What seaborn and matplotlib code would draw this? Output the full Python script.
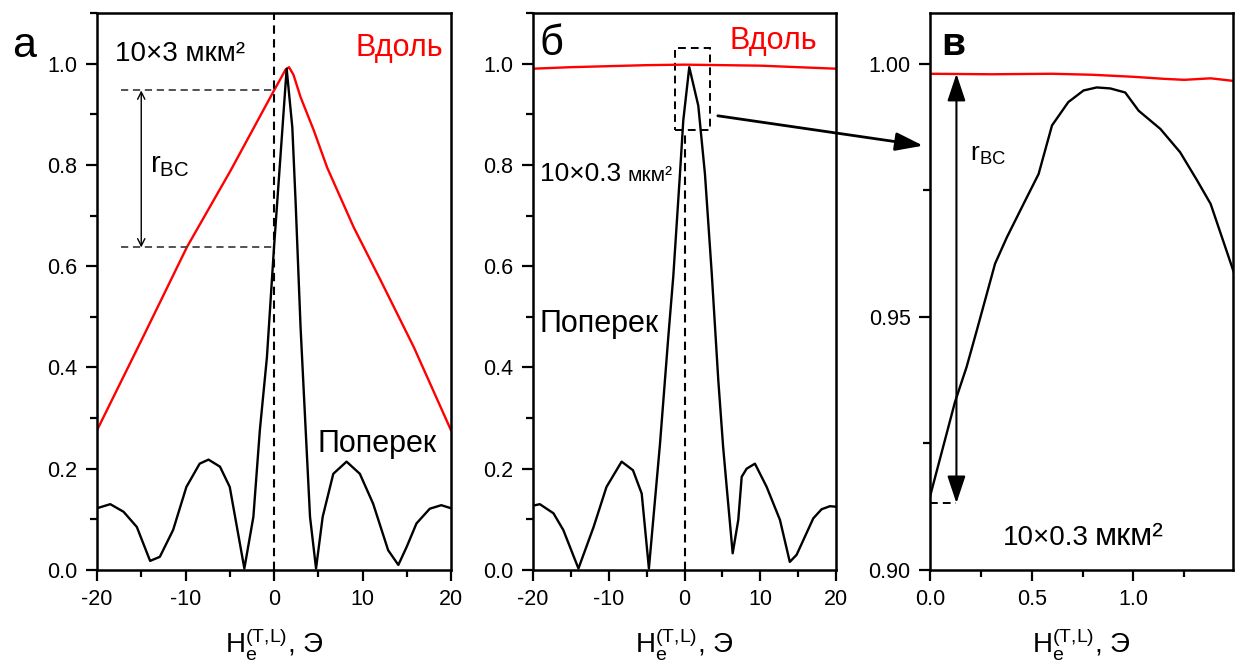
import matplotlib
matplotlib.use("Agg")
import matplotlib.pyplot as plt
from matplotlib.ticker import MultipleLocator, FormatStrFormatter
from matplotlib.patches import Rectangle
import seaborn as sns

# ---- data -------------------------------------------------------------
# (а) 10x3 мкм^2 : longitudinal (Вдоль) and transverse (Поперек) curves
along_a_x = [-20, -14.8, -9.83, -4.9, 0, 0.8, 1.3, 1.7, 2.2, 3.0, 4.5, 6.0, 9.0, 12.05, 15.8, 20]
along_a_y = [0.276, 0.46, 0.638, 0.789, 0.947, 0.972, 0.988, 0.993, 0.978, 0.934, 0.868, 0.795,
             0.677, 0.572, 0.44, 0.276]

across_a_x = [-20, -18.5, -17, -15.5, -14, -12.9, -11.4, -9.9, -8.4, -7.4, -6.1, -5.0, -3.35,
              -2.33, -1.6, -0.8, 0, 0.5, 1.43, 2.07, 2.45, 3.0, 3.58, 4.07, 4.75, 5.5, 6.7, 8.2,
              9.7, 11.2, 12.9, 14.05, 15.0, 16.1, 17.6, 18.9, 20]
across_a_y = [0.122, 0.130, 0.115, 0.085, 0.018, 0.026, 0.079, 0.164, 0.210, 0.218, 0.204, 0.164,
              0.003, 0.105, 0.276, 0.420, 0.637, 0.760, 0.990, 0.874, 0.723, 0.480, 0.276, 0.105,
              0.003, 0.105, 0.190, 0.214, 0.190, 0.131, 0.039, 0.010, 0.046, 0.092, 0.121, 0.128,
              0.122]

# (б) 10x0.3 мкм^2
along_b_x = [-20, -15, -10, -5, 0, 5, 10, 15, 20]
along_b_y = [0.990, 0.993, 0.995, 0.997, 0.998, 0.997, 0.996, 0.993, 0.990]

across_b_x = [-20, -19.1, -17.3, -16.0, -14.0, -12.0, -10.3, -8.3, -6.8, -5.65, -4.7, -3.23,
              -2.14, -1.48, -0.6, -0.16, 0.63, 1.82, 2.7, 3.6, 4.46, 5.1, 5.57, 6.36, 7.1, 7.55,
              8.2, 9.3, 10.85, 12.6, 13.9, 14.8, 17.0, 18.1, 19.2, 20]
across_b_y = [0.127, 0.130, 0.112, 0.079, 0.003, 0.085, 0.164, 0.214, 0.197, 0.151, 0.003, 0.250,
              0.460, 0.580, 0.782, 0.888, 0.993, 0.917, 0.782, 0.585, 0.375, 0.243, 0.164, 0.033,
              0.099, 0.184, 0.200, 0.210, 0.164, 0.099, 0.016, 0.030, 0.102, 0.120, 0.126, 0.125]

# (в) zoom of the (б) peak
along_c_x = [0, 0.3, 0.6, 0.8, 1.0, 1.15, 1.25, 1.38, 1.49]
along_c_y = [0.9980, 0.9979, 0.9980, 0.9978, 0.9974, 0.9970, 0.9968, 0.9971, 0.9966]

across_c_x = [0.0, 0.123, 0.18, 0.23, 0.32, 0.378, 0.46, 0.534, 0.6, 0.68, 0.755, 0.82, 0.887,
              0.96, 1.026, 1.133, 1.23, 1.314, 1.38, 1.494]
across_c_y = [0.9145, 0.9332, 0.9401, 0.9473, 0.9605, 0.9657, 0.9723, 0.9782, 0.9878, 0.9924,
              0.9947, 0.9953, 0.9951, 0.9943, 0.9907, 0.9871, 0.9825, 0.9769, 0.9723, 0.9588]

# r_BC markers in (в)
rbc_c_x = 0.13
rbc_c_low = 0.9132

label_along = "Вдоль"
label_across = "Поперек"
xlabel = r"$\mathregular{H_e^{(T{,}L)}}$, Э"

# ---- style --------------------------------------------------------------
sns.set_theme(style="ticks")
plt.rcParams["font.family"] = ["Liberation Sans", "DejaVu Sans"]
plt.rcParams["mathtext.fontset"] = "custom"
plt.rcParams["mathtext.rm"] = "Liberation Sans"
plt.rcParams["mathtext.it"] = "Liberation Sans:italic"
plt.rcParams["axes.unicode_minus"] = False
plt.rcParams["text.color"] = "black"
plt.rcParams["axes.labelcolor"] = "black"
plt.rcParams["xtick.color"] = "black"
plt.rcParams["ytick.color"] = "black"
plt.rcParams["axes.edgecolor"] = "black"

RED = "#ff0000"
W, H = 1242, 666
fig = plt.figure(figsize=(W / 100, H / 100), dpi=100)


def rect(left, right, top, bottom):
    return [left / W, 1 - bottom / H, (right - left) / W, (bottom - top) / H]


ax_a = fig.add_axes(rect(97, 451, 13, 570))
ax_b = fig.add_axes(rect(533, 836, 13, 570))
ax_c = fig.add_axes(rect(930, 1233, 13, 570))


def style(ax):
    for sp in ax.spines.values():
        sp.set_linewidth(1.8)
        sp.set_color("black")
    ax.tick_params(which="both", direction="out", top=False, right=False,
                   width=1.6, colors="black", labelsize=15.5, pad=6)
    ax.tick_params(which="major", length=8)
    ax.tick_params(which="minor", length=5)
    ax.set_xlabel(xlabel, fontsize=20, labelpad=12, color="black")
    ax.set_ylabel("")
    ax.grid(False)


def curve(ax, x, y, color):
    sns.lineplot(x=x, y=y, ax=ax, color=color, linewidth=1.7, sort=False,
                 estimator=None, legend=False)


# ---- (а) ----------------------------------------------------------------
curve(ax_a, along_a_x, along_a_y, RED)
curve(ax_a, across_a_x, across_a_y, "black")
ax_a.set_xlim(-20, 20)
ax_a.set_ylim(0, 1.1)
ax_a.xaxis.set_major_locator(MultipleLocator(10))
ax_a.xaxis.set_minor_locator(MultipleLocator(5))
ax_a.yaxis.set_major_locator(MultipleLocator(0.2))
ax_a.yaxis.set_minor_locator(MultipleLocator(0.1))
ax_a.yaxis.set_major_formatter(FormatStrFormatter("%.1f"))
style(ax_a)

ax_a.axvline(0, ls=(0, (4, 2.6)), color="black", lw=1.5)
top_a = along_a_y[along_a_x.index(0)]
low_a = across_a_y[across_a_x.index(0)]
for yv in (top_a, low_a):
    ax_a.plot([-17.3, 0], [yv, yv], ls=(0, (4, 2.6)), color="#444444", lw=1.3)
ax_a.annotate("", xy=(-15, low_a), xytext=(-15, top_a),
              arrowprops=dict(arrowstyle="<->", lw=1.0, color="black",
                              shrinkA=0, shrinkB=0, mutation_scale=13))
ax_a.text(-14.0, 0.786, r"$\mathregular{r_{BC}}$", fontsize=21, va="baseline")
ax_a.text(-18.0, 1.006, "10×3 мкм²", fontsize=20, va="baseline")
ax_a.text(19.1, 1.016, label_along, fontsize=22, color=RED, ha="right", va="baseline")
ax_a.text(4.86, 0.233, label_across, fontsize=22, va="baseline")

# ---- (б) ----------------------------------------------------------------
curve(ax_b, along_b_x, along_b_y, RED)
curve(ax_b, across_b_x, across_b_y, "black")
ax_b.set_xlim(-20, 20)
ax_b.set_ylim(0, 1.1)
ax_b.xaxis.set_major_locator(MultipleLocator(10))
ax_b.xaxis.set_minor_locator(MultipleLocator(5))
ax_b.yaxis.set_major_locator(MultipleLocator(0.2))
ax_b.yaxis.set_minor_locator(MultipleLocator(0.1))
ax_b.yaxis.set_major_formatter(FormatStrFormatter("%.1f"))
style(ax_b)

box_x0, box_x1, box_y0, box_y1 = -1.25, 3.37, 0.869, 1.031
ax_b.plot([0, 0], [0, box_y0], ls=(0, (4, 2.6)), color="black", lw=1.5)
ax_b.add_patch(Rectangle((box_x0, box_y0), box_x1 - box_x0, box_y1 - box_y0, fill=False,
                         ls=(0, (4, 2.6)), lw=1.4, edgecolor="black", clip_on=False))
ax_b.text(6.0, 1.029, label_along, fontsize=22, color=RED, va="baseline")
ax_b.text(-19.1, 0.769, "10×0.3", fontsize=19, va="baseline")
ax_b.text(-7.5, 0.769, "мкм²", fontsize=15, va="baseline")
ax_b.text(-19.1, 0.47, label_across, fontsize=22, va="baseline")

# ---- (в) ----------------------------------------------------------------
curve(ax_c, along_c_x, along_c_y, RED)
curve(ax_c, across_c_x, across_c_y, "black")
ax_c.set_xlim(0, 1.49)
ax_c.set_ylim(0.90, 1.01)
ax_c.xaxis.set_major_locator(MultipleLocator(0.5))
ax_c.xaxis.set_minor_locator(MultipleLocator(0.25))
ax_c.xaxis.set_major_formatter(FormatStrFormatter("%.1f"))
ax_c.yaxis.set_major_locator(MultipleLocator(0.05))
ax_c.yaxis.set_minor_locator(MultipleLocator(0.025))
ax_c.yaxis.set_major_formatter(FormatStrFormatter("%.2f"))
style(ax_c)

ax_c.plot([0, rbc_c_x], [rbc_c_low, rbc_c_low], ls=(0, (4, 2.6)), color="black", lw=1.4)
ax_c.annotate("", xy=(rbc_c_x, rbc_c_low), xytext=(rbc_c_x, along_c_y[0]),
              arrowprops=dict(arrowstyle="<|-|>,head_length=0.6,head_width=0.2", lw=1.5,
                              color="black", shrinkA=0, shrinkB=0, mutation_scale=28))
ax_c.text(0.197, 0.9809, r"$\mathregular{r_{BC}}$", fontsize=19, va="baseline")
ax_c.text(0.36, 0.9049, "10×0.3", fontsize=20, va="baseline")
ax_c.text(0.81, 0.9049, "мкм²", fontsize=23, va="baseline")

# arrow from the dashed box in (б) to the zoomed panel (в)
ax_c.annotate("", xy=(-0.034, 0.9838), xycoords="data",
              xytext=(4.4, 0.897), textcoords=ax_b.transData,
              arrowprops=dict(arrowstyle="-|>,head_length=0.6,head_width=0.2", lw=2.0,
                              color="black", shrinkA=0, shrinkB=0, mutation_scale=28),
              annotation_clip=False)

# ---- panel letters ------------------------------------------------------
fig.text(12 / W, 1 - 57 / H, "а", fontsize=31, va="baseline")
fig.text(540 / W, 1 - 55 / H, "б", fontsize=30, va="baseline")
fig.text(941 / W, 1 - 55 / H, "в", fontsize=28, fontweight="bold", va="baseline")

fig.savefig("out.png", dpi=100)
